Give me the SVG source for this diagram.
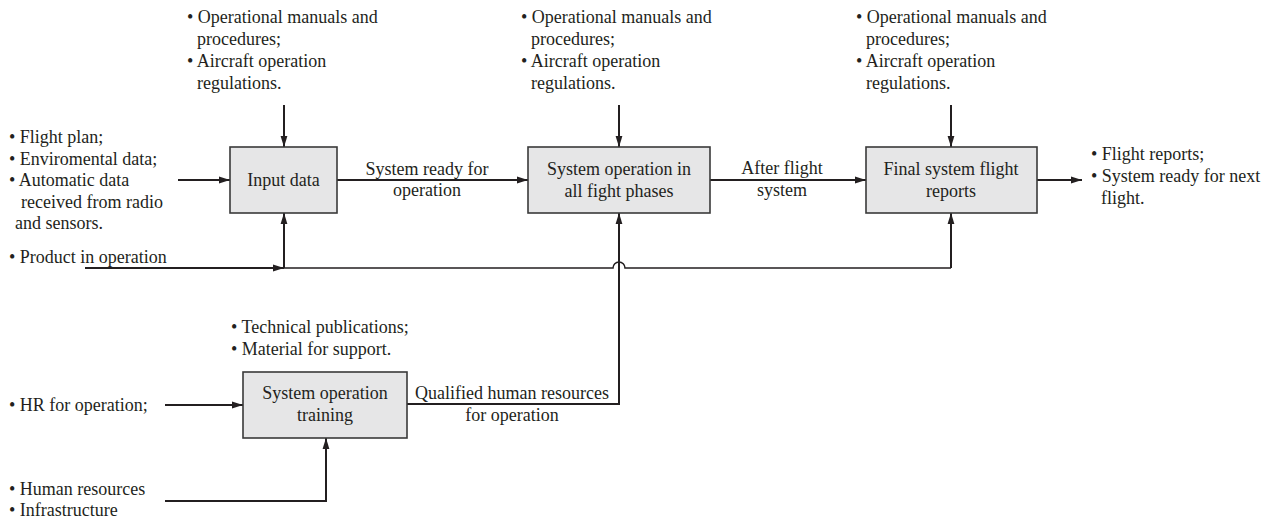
<svg xmlns="http://www.w3.org/2000/svg" width="1282" height="521" viewBox="0 0 1282 521">
  <style>
    text { font-family: "Liberation Serif", "Times New Roman", serif; font-size: 18px; fill: #231f20; }
    .mid { text-anchor: middle; }
    .box { fill: #e6e6e7; stroke: #3a3a3a; stroke-width: 1.6; }
    .wire { fill: none; stroke: #231f20; stroke-width: 2; }
    .thin { fill: none; stroke: #231f20; stroke-width: 1.5; }
  </style>
  <defs>
    <marker id="arrow" markerUnits="userSpaceOnUse" markerWidth="12" markerHeight="8" refX="11" refY="4" orient="auto">
      <path d="M0,0.6 L11,4 L0,7.4 Z" fill="#231f20"/>
    </marker>
  </defs>
  <rect width="1282" height="521" fill="#ffffff"/>

  <!-- connectors -->
  <g id="connectors">
    <!-- control inputs from the top -->
    <line class="wire" x1="284" y1="105" x2="284" y2="147" marker-end="url(#arrow)"/>
    <line class="wire" x1="619" y1="105" x2="619" y2="147" marker-end="url(#arrow)"/>
    <line class="wire" x1="951" y1="105" x2="951" y2="147" marker-end="url(#arrow)"/>
    <!-- main flow -->
    <line class="wire" x1="178" y1="180" x2="230" y2="180" marker-end="url(#arrow)"/>
    <line class="wire" x1="337" y1="180" x2="528" y2="180" marker-end="url(#arrow)"/>
    <line class="wire" x1="710" y1="180" x2="866" y2="180" marker-end="url(#arrow)"/>
    <line class="wire" x1="1037" y1="180" x2="1082" y2="180" marker-end="url(#arrow)"/>
    <!-- product in operation -->
    <line class="wire" x1="85" y1="268" x2="284" y2="268" marker-end="url(#arrow)"/>
    <line class="wire" x1="284" y1="268" x2="284" y2="213" marker-end="url(#arrow)"/>
    <path class="thin" d="M284,268 H613 A6,6 0 0 1 625,268 H951"/>
    <line class="wire" x1="951" y1="268" x2="951" y2="213" marker-end="url(#arrow)"/>
    <!-- qualified human resources -->
    <path class="wire" d="M407,404 H619 V213" marker-end="url(#arrow)"/>
    <!-- training inputs -->
    <line class="wire" x1="165" y1="405" x2="243" y2="405" marker-end="url(#arrow)"/>
    <path class="wire" d="M165,501 H326 V438" marker-end="url(#arrow)"/>
  </g>

  <!-- edge labels -->
  <g id="edge-labels">
    <text class="mid" x="427" y="175">System ready for</text>
    <text class="mid" x="427" y="196">operation</text>
    <text class="mid" x="782" y="174">After flight</text>
    <text class="mid" x="782" y="196">system</text>
    <text class="mid" x="512" y="399">Qualified human resources</text>
    <text class="mid" x="512" y="421">for operation</text>
  </g>

  <!-- nodes -->
  <g id="node-input">
    <rect class="box" x="230" y="147" width="107" height="66"/>
    <text class="mid" x="283.5" y="186">Input data</text>
  </g>
  <g id="node-operation">
    <rect class="box" x="528" y="147" width="182" height="66"/>
    <text class="mid" x="619" y="175">System operation in</text>
    <text class="mid" x="619" y="197">all fight phases</text>
  </g>
  <g id="node-final">
    <rect class="box" x="866" y="147" width="171" height="66"/>
    <text class="mid" x="951" y="175">Final system flight</text>
    <text class="mid" x="951" y="197">reports</text>
  </g>
  <g id="node-training">
    <rect class="box" x="243" y="372" width="164" height="66"/>
    <text class="mid" x="325" y="399">System operation</text>
    <text class="mid" x="325" y="421">training</text>
  </g>

  <!-- controls above each node -->
  <g id="controls-input">
    <text x="187" y="23">• Operational manuals and</text>
    <text x="197" y="45">procedures;</text>
    <text x="187" y="67">• Aircraft operation</text>
    <text x="197" y="89">regulations.</text>
  </g>
  <g id="controls-operation">
    <text x="521" y="23">• Operational manuals and</text>
    <text x="531" y="45">procedures;</text>
    <text x="521" y="67">• Aircraft operation</text>
    <text x="531" y="89">regulations.</text>
  </g>
  <g id="controls-final">
    <text x="856" y="23">• Operational manuals and</text>
    <text x="866" y="45">procedures;</text>
    <text x="856" y="67">• Aircraft operation</text>
    <text x="866" y="89">regulations.</text>
  </g>

  <!-- inputs on the left -->
  <g id="inputs-flight">
    <text x="9" y="143">• Flight plan;</text>
    <text x="9" y="165">• Enviromental data;</text>
    <text x="9" y="186">• Automatic data</text>
    <text x="21" y="208">received from radio</text>
    <text x="15" y="229">and sensors.</text>
    <text x="9" y="263">• Product in operation</text>
  </g>

  <!-- outputs -->
  <g id="outputs-final">
    <text x="1091" y="160">• Flight reports;</text>
    <text x="1091" y="182">• System ready for next</text>
    <text x="1101" y="204">flight.</text>
  </g>

  <!-- training resources -->
  <g id="controls-training">
    <text x="231" y="333">• Technical publications;</text>
    <text x="231" y="355">• Material for support.</text>
  </g>
  <g id="inputs-training">
    <text x="9" y="411">• HR for operation;</text>
    <text x="9" y="495">• Human resources</text>
    <text x="9" y="516">• Infrastructure</text>
  </g>
</svg>
